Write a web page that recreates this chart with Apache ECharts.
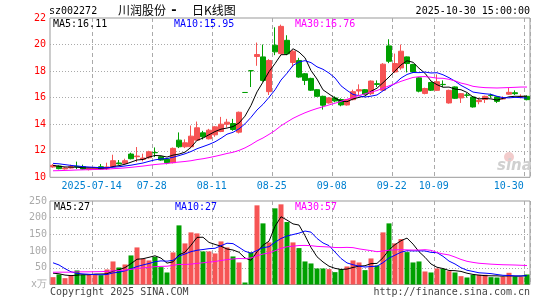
<!DOCTYPE html>
<html><head><meta charset="utf-8">
<script src="https://cdn.jsdelivr.net/npm/echarts@6/dist/echarts.min.js"></script>
<style>html,body{margin:0;padding:0;background:#fff}#c{width:545px;height:300px}</style>
</head><body><div id="c"></div>
<script>
// ---- data ----
const dates = ['2025-07-03','2025-07-04','2025-07-07','2025-07-08','2025-07-09','2025-07-10','2025-07-11','2025-07-14','2025-07-15','2025-07-16',
'2025-07-17','2025-07-18','2025-07-21','2025-07-22','2025-07-23','2025-07-24','2025-07-25','2025-07-28','2025-07-29','2025-07-30',
'2025-07-31','2025-08-01','2025-08-04','2025-08-05','2025-08-06','2025-08-07','2025-08-08','2025-08-11','2025-08-12','2025-08-13',
'2025-08-14','2025-08-15','2025-08-18','2025-08-19','2025-08-20','2025-08-21','2025-08-22','2025-08-25','2025-08-26','2025-08-27',
'2025-08-28','2025-08-29','2025-09-01','2025-09-02','2025-09-03','2025-09-04','2025-09-05','2025-09-08','2025-09-09','2025-09-10',
'2025-09-11','2025-09-12','2025-09-15','2025-09-16','2025-09-17','2025-09-18','2025-09-19','2025-09-22','2025-09-23','2025-09-24',
'2025-09-25','2025-09-26','2025-09-29','2025-09-30','2025-10-09','2025-10-10','2025-10-13','2025-10-14','2025-10-15','2025-10-16',
'2025-10-17','2025-10-20','2025-10-21','2025-10-22','2025-10-23','2025-10-24','2025-10-27','2025-10-28','2025-10-29','2025-10-30'];

const opens = [10.78,10.85,10.63,10.70,10.82,10.80,10.58,10.65,10.80,10.65,
10.80,11.08,11.05,11.75,11.55,11.35,11.47,11.87,11.55,11.37,
11.10,12.80,12.30,12.30,12.80,13.35,12.90,13.20,13.45,14.00,
14.05,13.40,16.39,18.03,19.10,19.07,16.45,19.95,19.32,20.32,
18.65,18.80,17.80,17.45,16.60,16.10,15.60,15.98,15.86,15.45,
15.85,16.50,16.60,16.30,17.05,16.56,19.90,17.94,18.24,19.07,
18.50,17.49,16.32,17.14,16.55,17.00,15.60,16.81,15.98,16.20,
16.05,15.70,15.86,16.17,16.06,15.90,16.26,16.37,16.05,16.10];
const closes = [10.90,10.65,10.70,10.80,10.78,10.62,10.68,10.72,10.62,10.78,
11.25,11.02,11.25,11.40,11.60,11.45,11.92,11.85,11.30,11.10,
12.18,12.30,12.60,13.10,13.73,13.05,13.55,13.80,14.00,14.15,
13.60,14.90,16.39,18.03,19.25,17.30,18.80,19.45,21.37,19.30,
19.50,17.55,17.30,16.56,16.10,15.43,15.98,15.75,15.45,15.86,
16.45,16.60,16.26,17.25,17.00,18.52,18.74,18.57,19.50,18.57,
17.94,16.49,16.69,16.56,17.20,16.98,16.55,15.95,16.30,16.18,
15.30,15.80,16.10,16.15,15.72,15.95,16.40,16.30,16.10,15.85];
const lows = [10.72,10.60,10.58,10.66,10.62,10.58,10.52,10.60,10.55,10.55,
10.75,10.95,11.00,11.35,11.15,11.20,11.40,11.52,11.25,10.98,
11.05,12.20,12.20,12.25,12.75,12.85,12.85,13.05,13.40,13.75,
13.50,13.30,16.39,16.80,18.40,17.20,16.20,19.20,19.25,19.20,
18.30,17.50,16.95,16.50,16.05,15.10,15.55,15.65,15.35,15.40,
15.80,16.10,16.20,16.20,16.80,16.50,18.60,17.85,18.10,17.90,
17.85,16.40,16.25,16.50,16.50,16.80,15.55,15.90,15.60,16.00,
15.25,15.50,15.60,15.98,15.60,15.85,16.20,16.20,15.95,15.80];
const highs = [11.00,10.90,10.78,10.95,11.18,10.95,10.72,10.78,11.00,11.10,
11.70,11.30,11.40,11.85,12.28,11.78,12.00,12.25,11.60,11.45,
12.25,13.38,12.86,13.90,14.20,13.50,13.65,13.85,14.55,14.40,
14.40,14.95,16.39,18.03,20.15,20.00,18.90,21.30,21.50,20.70,
19.60,19.00,17.85,17.50,16.65,16.15,16.05,16.10,15.95,15.90,
16.60,17.00,16.65,17.30,17.30,18.60,20.40,19.32,20.00,19.10,
18.55,17.55,16.75,17.20,17.75,17.30,16.60,16.85,16.35,16.35,
16.10,16.00,16.15,16.30,16.10,16.10,16.75,16.55,16.25,16.15];
const volumes = [22,30,19,27,42,29,29,29,28,45,
69,51,60,87,111,77,72,83,52,36,
96,177,123,156,153,99,99,93,129,111,
84,66,6,96,237,183,126,228,240,187,
126,109,69,63,48,48,46,37,46,54,
72,66,43,78,57,156,183,123,136,97,
66,69,39,36,48,47,40,36,25,21,
29,29,29,22,21,23,35,24,23,30];
// closes / volumes of the days before the window (needed for the moving averages)
const preCloses = [10.30,10.25,10.35,10.20,10.30,10.25,10.40,10.30,10.20,10.25,10.30,10.20,10.20,
10.10,10.05,10.10,10.15,10.05,10.10,10.15,11.00,11.30,11.40,11.20,11.10,11.00,10.95,10.85,10.80];
const preVolumes = [20,25,22,18,24,26,21,19,23,25,22,20,24,28,23,21,26,24,22,17,95,130,120,90,45,40,38,35,35];

const tickDates = ['2025-07-14','2025-07-28','2025-08-11','2025-08-25','2025-09-08','2025-09-22','2025-10-09','2025-10-30'];
const tickLabels = ['2025-07-14','07-28','08-11','08-25','09-08','09-22','10-09','10-30'];
const priceTicks = [10, 22, 2];
const volTicks = [0, 250, 50];
const maPriceLabels = ['MA5:16.11','MA10:15.95','MA30:16.76'];
const maVolLabels = ['MA5:27','MA10:27','MA30:57'];
const titleCode = 'sz002272';
const titleName = ['川润股份','-','日K线图'];
const timeStamp = '2025-10-30 15:00:00';

// ---- build ----
const RED = '#f65454', GREEN = '#00a000';
const MONO = '"DejaVu Sans Mono", monospace';
const CJK = '"Noto Sans CJK SC", sans-serif';
const tickIdx = tickDates.map(d => dates.indexOf(d));

function movingAverage(pre, vals, n) {
  const all = pre.concat(vals), off = pre.length;
  return vals.map((_, i) => {
    let s = 0;
    for (let k = 0; k < n; k++) s += all[off + i - k];
    return +(s / n).toFixed(3);
  });
}
const isUp = i => closes[i] > opens[i];
const candleData = dates.map((d, i) => {
  const c = isUp(i) ? RED : GREEN;
  return { value: [opens[i], closes[i], lows[i], highs[i]],
    itemStyle: { color: c, color0: c, borderColor: c, borderColor0: c } };
});
const volData = volumes.map((v, i) => ({ value: v, itemStyle: { color: isUp(i) ? RED : GREEN } }));

const maColors = ['#000000', '#0000ff', '#ff00ff'];
const maN = [5, 10, 30];
function maSeries(pre, vals, idx) {
  return maN.map((n, k) => ({
    type: 'line', xAxisIndex: idx, yAxisIndex: idx, data: movingAverage(pre, vals, n),
    showSymbol: false, symbol: 'none', silent: true, z: 5,
    lineStyle: { width: 1, color: maColors[k] }
  }));
}

const splitX = { show: true, interval: (i) => tickIdx.indexOf(i) >= 0, lineStyle: { color: '#aaa', width: 1, type: [4, 3] } };

const chart = echarts.init(document.getElementById('c'), null, { renderer: 'canvas', width: 545, height: 300 });
const txt = (text, x, y, fill, font, align) => ({
  type: 'text', x: x, y: y, silent: true, z: 100,
  style: { text: text, fill: fill, font: font, align: align || 'left', textAlign: align || 'left',
           verticalAlign: 'middle', textVerticalAlign: 'middle' }
});

chart.setOption({
  animation: false,
  backgroundColor: '#ffffff',
  grid: [
    { left: 50, top: 18, width: 480, height: 159.3, show: true, borderColor: '#999', borderWidth: 1 },
    { left: 50, top: 201, width: 480, height: 83.5, show: true, borderColor: '#999', borderWidth: 1 }
  ],
  xAxis: [
    { type: 'category', gridIndex: 0, data: dates, boundaryGap: true,
      axisLine: { show: false }, axisTick: { show: false },
      axisLabel: { interval: (i) => tickIdx.indexOf(i) >= 0, margin: 4, color: '#0080d0',
        fontFamily: MONO, fontSize: 10,
        formatter: (v, i) => { const k = tickDates.indexOf(v); return k < 0 ? '' : (k === tickDates.length - 1 ? '{e|' + tickLabels[k] + '}' : '{n|' + tickLabels[k] + '}'); },
        rich: { n: { padding: [0, 6.6, 0, 0], color: '#0080d0', fontFamily: MONO, fontSize: 10 },
                e: { padding: [0, 36.6, 0, 0], color: '#0080d0', fontFamily: MONO, fontSize: 10 } } },
      splitLine: splitX },
    { type: 'category', gridIndex: 1, data: dates, boundaryGap: true,
      axisLine: { show: false }, axisTick: { show: false }, axisLabel: { show: false },
      splitLine: splitX }
  ],
  yAxis: [
    { type: 'value', gridIndex: 0, min: priceTicks[0], max: priceTicks[1], interval: priceTicks[2],
      axisLine: { show: false }, axisTick: { show: false },
      axisLabel: { color: '#ff0000', fontFamily: MONO, fontSize: 10, margin: 4 },
      splitLine: { show: true, showMinLine: false, showMaxLine: false, lineStyle: { color: '#aaa', type: [1, 2] } } },
    { type: 'value', gridIndex: 1, min: volTicks[0], max: volTicks[1], interval: volTicks[2],
      axisLine: { show: false }, axisTick: { show: false },
      axisLabel: { color: '#aaa', fontFamily: MONO, fontSize: 10, margin: 3,
        formatter: v => v === 0 ? 'x万' : String(v) },
      splitLine: { show: true, showMinLine: false, showMaxLine: false, lineStyle: { color: '#aaa', type: [1, 2] } } }
  ],
  series: [
    { type: 'candlestick', xAxisIndex: 0, yAxisIndex: 0, data: candleData, barWidth: 5, silent: true },
    ...maSeries(preCloses, closes, 0),
    { type: 'bar', xAxisIndex: 1, yAxisIndex: 1, data: volData, barWidth: 5, silent: true },
    ...maSeries(preVolumes, volumes, 1)
  ],
  graphic: [
    txt(titleCode, 49, 11.5, '#000', '10px ' + MONO),
    txt(titleName[0], 118, 10.5, '#000', '12px ' + CJK),
    txt(titleName[1], 174, 10.5, '#000', 'bold 13px ' + MONO, 'center'),
    txt(titleName[2], 192, 10.5, '#000', '12px ' + CJK),
    txt(timeStamp, 530, 11.5, '#000', '10px ' + MONO, 'right'),
    txt(maPriceLabels[0], 53, 24.5, maColors[0], '10px ' + MONO),
    txt(maPriceLabels[1], 174, 24.5, maColors[1], '10px ' + MONO),
    txt(maPriceLabels[2], 295, 24.5, maColors[2], '10px ' + MONO),
    txt(maVolLabels[0], 54, 207, maColors[0], '10px ' + MONO),
    txt(maVolLabels[1], 175, 207, maColors[1], '10px ' + MONO),
    txt(maVolLabels[2], 295, 207, maColors[2], '10px ' + MONO),
    txt('Copyright 2025 SINA.COM', 50, 292.5, '#444', '10px ' + MONO),
    txt('http://finance.sina.com.cn', 530, 292.5, '#444', '10px ' + MONO, 'right'),
    { type: 'circle', shape: { cx: 509, cy: 157, r: 5 }, style: { fill: '#f2cccc' }, silent: true, z: 1 },
    txt('sina', 497, 166, '#d0d0d0', 'italic bold 15px "DejaVu Sans", sans-serif')
  ]
});
</script></body></html>
